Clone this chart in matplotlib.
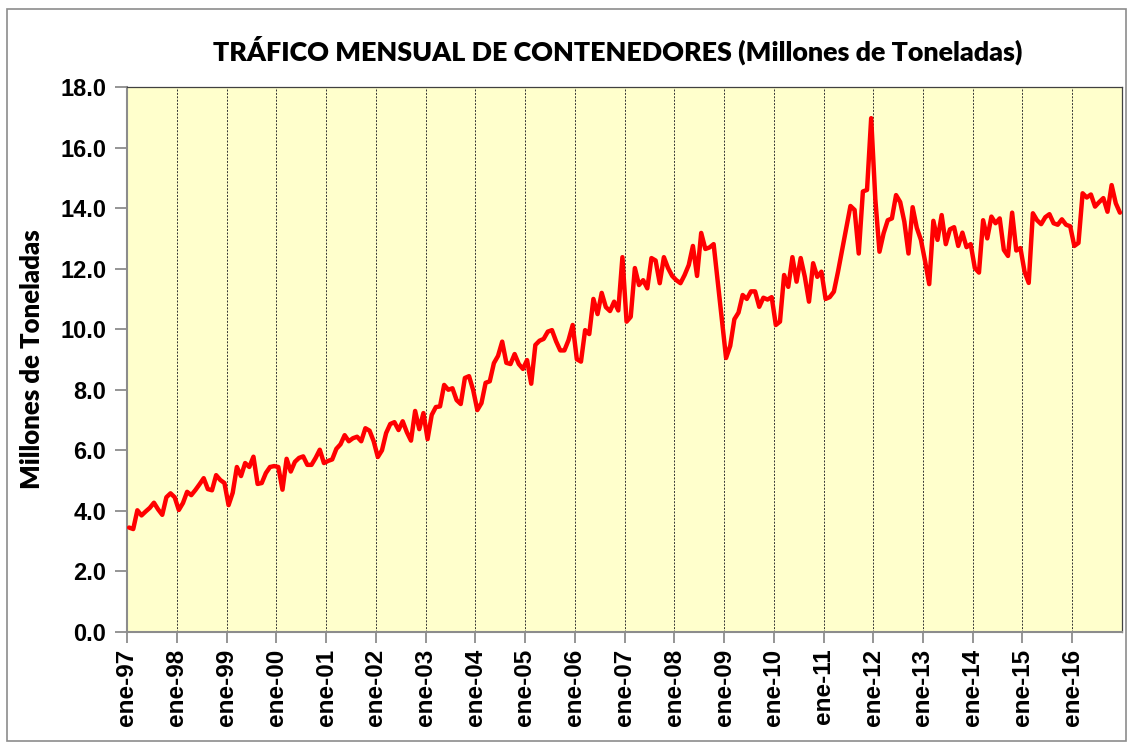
import matplotlib
matplotlib.use("Agg")
import matplotlib.pyplot as plt
from matplotlib.patches import Rectangle
import numpy as np

# Monthly container traffic (millions of tonnes), Jan..Dec of each year
y1997 = [3.45, 3.40, 4.02, 3.85, 3.98, 4.10, 4.27, 4.05, 3.87, 4.45, 4.58, 4.45]
y1998 = [4.03, 4.26, 4.63, 4.52, 4.69, 4.88, 5.08, 4.72, 4.68, 5.18, 5.02, 4.92]
y1999 = [4.19, 4.60, 5.45, 5.15, 5.58, 5.45, 5.79, 4.89, 4.92, 5.25, 5.45, 5.48]
y2000 = [5.45, 4.70, 5.72, 5.30, 5.62, 5.75, 5.80, 5.52, 5.52, 5.75, 6.02, 5.58]
y2001 = [5.65, 5.70, 6.05, 6.20, 6.50, 6.30, 6.40, 6.45, 6.30, 6.73, 6.65, 6.30]
y2002 = [5.78, 6.00, 6.57, 6.87, 6.93, 6.67, 6.96, 6.60, 6.32, 7.30, 6.70, 7.23]
y2003 = [6.37, 7.17, 7.43, 7.45, 8.16, 8.00, 8.05, 7.66, 7.53, 8.39, 8.45, 7.99]
y2004 = [7.33, 7.56, 8.23, 8.28, 8.88, 9.12, 9.59, 8.89, 8.85, 9.18, 8.85, 8.69]
y2005 = [8.98, 8.20, 9.48, 9.62, 9.68, 9.92, 9.97, 9.60, 9.30, 9.30, 9.64, 10.14]
y2006 = [9.01, 8.93, 9.97, 9.84, 11.00, 10.50, 11.20, 10.73, 10.60, 10.91, 10.62, 12.38]
y2007 = [10.25, 10.41, 12.02, 11.46, 11.62, 11.35, 12.35, 12.27, 11.52, 12.38, 12.02, 11.76]
y2008 = [11.62, 11.52, 11.79, 12.12, 12.75, 11.76, 13.18, 12.65, 12.70, 12.81, 11.55, 10.30]
y2009 = [9.05, 9.45, 10.33, 10.55, 11.13, 11.00, 11.25, 11.25, 10.74, 11.04, 10.98, 11.06]
y2010 = [10.14, 10.25, 11.79, 11.40, 12.38, 11.57, 12.35, 11.73, 10.91, 12.18, 11.73, 11.90]
y2011 = [11.00, 11.06, 11.24, 11.90, 12.62, 13.34, 14.07, 13.94, 12.50, 14.55, 14.60, 16.97]
y2012 = [14.30, 12.56, 13.17, 13.60, 13.66, 14.43, 14.20, 13.55, 12.50, 14.03, 13.35, 12.95]
y2013 = [12.25, 11.49, 13.58, 12.95, 13.77, 12.81, 13.30, 13.37, 12.75, 13.19, 12.71, 12.81]
y2014 = [12.02, 11.87, 13.60, 13.00, 13.72, 13.50, 13.66, 12.62, 12.42, 13.85, 12.60, 12.68]
y2015 = [11.90, 11.53, 13.83, 13.60, 13.47, 13.70, 13.80, 13.50, 13.45, 13.63, 13.45, 13.40]
y2016 = [12.75, 12.85, 14.49, 14.35, 14.45, 14.05, 14.20, 14.33, 13.88, 14.76, 14.16, 13.85]

years = list(range(1997, 2017))
tick_labels = ["ene-%02d" % (y % 100) for y in years]
yticks = [0, 2, 4, 6, 8, 10, 12, 14, 16, 18]

title = "TRÁFICO MENSUAL DE CONTENEDORES (Millones de Toneladas)"
ylabel = "Millones de Toneladas"

series = (y1997 + y1998 + y1999 + y2000 + y2001 + y2002 + y2003 + y2004 + y2005
          + y2006 + y2007 + y2008 + y2009 + y2010 + y2011 + y2012 + y2013 + y2014
          + y2015 + y2016)
months = np.arange(len(series)) + 0.5

W, H = 1128, 742
fig = plt.figure(figsize=(W / 100, H / 100), dpi=100)
fig.patch.set_facecolor("white")

# outer chart border
fig.patches.append(Rectangle((7 / W, 1 / H), 1119 / W, 732 / H, transform=fig.transFigure,
                             fill=False, edgecolor="#8c8c8c", linewidth=1.2))

ax = fig.add_axes([127 / W, 1 - 632 / H, 995 / W, 545 / H])
ax.set_facecolor("#FFFFCC")

ax.plot(months, series, color="#FF0000", linewidth=3.2, solid_joinstyle="round",
        solid_capstyle="round", zorder=3)

ax.set_xlim(0, 12 * len(years))
ax.set_ylim(0, 18)

xt = np.arange(len(years)) * 12
ax.set_xticks(xt)
ax.set_xticklabels(tick_labels, rotation=90, fontsize=17.5, fontweight="bold",
                   family="Liberation Sans")
ax.set_yticks(yticks)
ax.set_yticklabels(["%.1f" % v for v in yticks], fontsize=17, fontweight="bold",
                   family="Liberation Sans")

for x in xt[1:]:
    ax.axvline(x, color="#333333", linestyle=(0, (2, 1.5)), linewidth=0.7, zorder=1)

for s in ax.spines.values():
    s.set_color("#404040")
    s.set_linewidth(0.9)
ax.spines["left"].set_color("#8c8c8c")
ax.spines["bottom"].set_color("#8c8c8c")
ax.spines["left"].set_linewidth(1.5)
ax.spines["bottom"].set_linewidth(1.5)

ax.tick_params(axis="x", direction="out", length=8, width=1.3, color="#8c8c8c", pad=4)
ax.tick_params(axis="y", direction="out", length=9, width=1.3, color="#8c8c8c", pad=6)

fig.text(618 / W, 1 - 50 / H, title, ha="center", va="center", fontsize=19.4,
         fontweight="heavy", family="Lato")
fig.text(32 / W, 1 - 359 / H, ylabel, ha="center", va="center", rotation=90,
         fontsize=18.5, fontweight="heavy", family="Lato")

fig.savefig("out.png", dpi=100, facecolor="white")
